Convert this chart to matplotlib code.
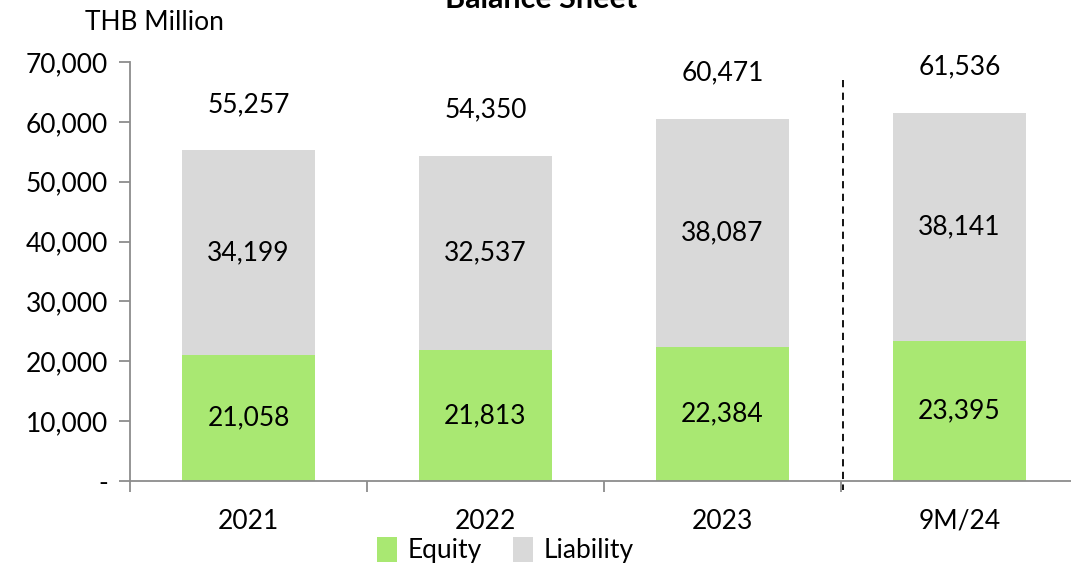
import matplotlib.pyplot as plt

plt.rcParams['font.family'] = ['Lato', 'DejaVu Sans']

periods = ['2021', '2022', '2023', '9M/24']
equity = [21058, 21813, 22384, 23395]
liability = [34199, 32537, 38087, 38141]
totals = [55257, 54350, 60471, 61536]

green = '#a9e872'
grey = '#d9d9d9'
axis_col = '#8c8c8c'
fs = 19

fig = plt.figure(figsize=(10.71, 5.65), dpi=100)
ax = fig.add_axes([0.1214, 0.1487, 0.885, 0.7416])

x = list(range(len(periods)))
ax.bar(x, equity, width=0.56, color=green, label='Equity')
ax.bar(x, liability, width=0.56, bottom=equity, color=grey, label='Liability')

for i in x:
    ax.text(i, equity[i] / 2, f'{equity[i]:,}', ha='center', va='center', fontsize=fs)
    ax.text(i, equity[i] + liability[i] / 2, f'{liability[i]:,}', ha='center', va='center', fontsize=fs)
    ax.annotate(f'{totals[i]:,}', (i, totals[i]), xytext=(0, 33), textcoords='offset points',
                ha='center', va='center', fontsize=fs)

# dashed separator between actuals and 9M/24
ax.plot([2.51, 2.51], [67000, -1500], color='black', ls=(0, (4, 3)), lw=1.3, clip_on=False)

ax.set_xlim(-0.5, 3.5)
ax.set_ylim(0, 70000)
ax.set_yticks(range(0, 70001, 10000))
ax.set_yticklabels(['-'] + [f'{v:,}' for v in range(10000, 70001, 10000)], fontsize=fs)
ax.set_xticks([-0.5, 0.5, 1.5, 2.5, 3.5])
ax.set_xticklabels([])
ax.set_xticks(x, minor=True)
ax.set_xticklabels(periods, minor=True, fontsize=fs)
ax.tick_params(axis='x', which='minor', length=0, pad=20)
ax.tick_params(axis='x', which='major', length=8, color=axis_col, width=1.3)
ax.tick_params(axis='y', length=8, color=axis_col, width=1.3, pad=8)

for s in ['top', 'right']:
    ax.spines[s].set_visible(False)
for s in ['left', 'bottom']:
    ax.spines[s].set_color(axis_col)
    ax.spines[s].set_linewidth(1.3)

fig.text(0.505, 0.986, 'Balance Sheet', ha='center', va='baseline', fontsize=22, fontweight='bold')
fig.text(0.079, 1 - 23 / 565, 'THB Million', ha='left', va='center', fontsize=fs)

fig.legend(loc='center', bbox_to_anchor=(0.472, 1 - 550 / 565), ncol=2, frameon=False,
           fontsize=fs, handlelength=0.75, handleheight=1.1, handletextpad=0.4, columnspacing=1.2)

fig.savefig('out.png', dpi=100)
